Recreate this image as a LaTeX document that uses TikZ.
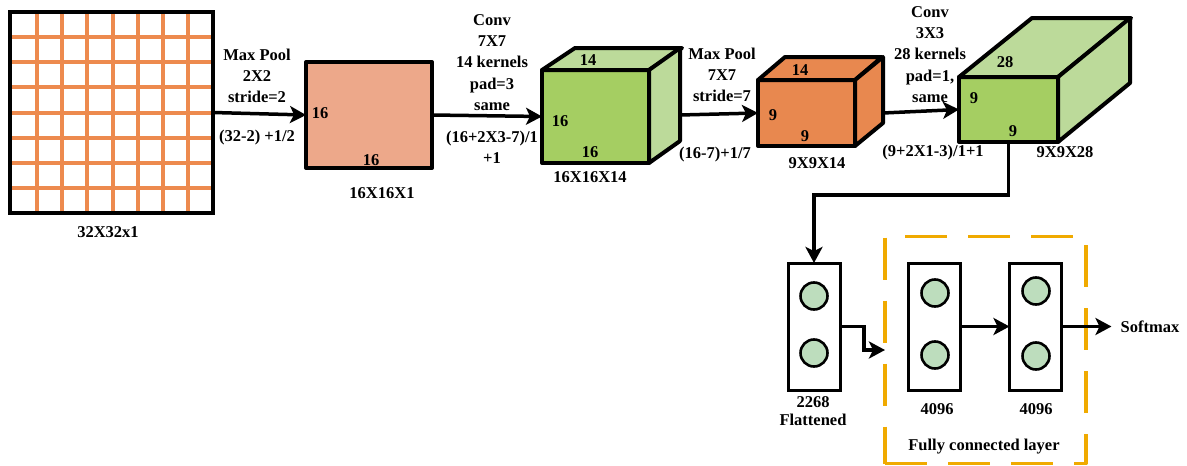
\documentclass[tikz,border=0pt]{standalone}
\usepackage{fontspec}
\setmainfont{Liberation Serif}
\usetikzlibrary{arrows.meta,calc}
\definecolor{gridor}{HTML}{ED8A4E}
\definecolor{pinkf}{HTML}{EDA88A}
\definecolor{greenf}{HTML}{A5CE62}
\definecolor{greenl}{HTML}{BCDA9A}
\definecolor{orcube}{HTML}{E8884F}
\definecolor{dashor}{HTML}{F0AA00}
\definecolor{circf}{HTML}{BDDDBD}
\begin{document}
\begin{tikzpicture}[x=1pt,y=-1pt,
  lbl/.style={font=\bfseries\fontsize{16.5}{21.3}\selectfont, align=center, inner sep=0pt},
  face/.style={draw, line width=4pt, line join=round, outer sep=0pt, inner sep=0pt},
  arr/.style={line width=3.5pt, -{Stealth[length=16pt,width=17pt,inset=4pt]}},
  layerbox/.style={draw, line width=3pt, fill=white, minimum width=52pt, minimum height=127pt, outer sep=0pt, inner sep=0pt},
  neuron/.style={circle, draw, line width=2.6pt, fill=circf, minimum size=27pt, inner sep=0pt},
]
\useasboundingbox (0,0) rectangle (1187,466);

% input grid
\node[face, minimum width=203pt, minimum height=201pt, fill=white] (in) at (111.5,112.5) {};
\foreach \v in {37,62,87,113,138,163,188} {
  \draw[gridor, line width=3.8pt] (\v,12) -- (\v,213);
  \draw[gridor, line width=3.8pt] (10,\v) -- (213,\v);
}
\draw[line width=4pt] (in.north west) rectangle (in.south east);
\node[lbl] (inl) at (108,232) {32X32x1};

% pool 1 output
\node[face, fill=pinkf, minimum width=126pt, minimum height=106pt] (pink) at (369,115) {};
\node[lbl] (p16a) at (320,113) {16};
\node[lbl] (p16b) at (371,160) {16};
\node[lbl] (pinkl) at (382,193) {16X16X1};

% cube 1
\node[face, fill=greenf, minimum width=107pt, minimum height=93pt] (c1) at (595.5,116.5) {};
\draw[face, fill=greenl] (c1.north west) -- ++(33,-22) -- ++(107,0) -- (c1.north east) -- cycle;
\draw[face, fill=greenl] (c1.north east) -- ++(31,-22) -- ++(0,93) -- (c1.south east) -- cycle;
\node[lbl] (c1a) at (588,60) {14};
\node[lbl] (c1b) at (560,121) {16};
\node[lbl] (c1c) at (590,152) {16};
\node[lbl] (c1l) at (590,177) {16X16X14};

% cube 2
\node[face, fill=orcube, minimum width=97pt, minimum height=66pt] (c2) at (806.5,113) {};
\draw[face, fill=orcube] (c2.north west) -- ++(27,-23) -- ++(97,0) -- (c2.north east) -- cycle;
\draw[face, fill=orcube] (c2.north east) -- ++(28,-23) -- ++(0,66) -- (c2.south east) -- cycle;
\node[lbl] (c2a) at (800,70) {14};
\node[lbl] (c2b) at (773,115) {9};
\node[lbl] (c2c) at (805,136) {9};
\node[lbl] (c2l) at (817,163) {9X9X14};

% cube 3
\node[face, fill=greenf, minimum width=99pt, minimum height=65pt] (c3) at (1008.5,109.5) {};
\draw[face, fill=greenl] (c3.north west) -- ++(73,-59) -- ++(99,0) -- (c3.north east) -- cycle;
\draw[face, fill=greenl] (c3.north east) -- ++(72,-59) -- ++(0,65) -- (c3.south east) -- cycle;
\node[lbl] (c3a) at (1005,62) {28};
\node[lbl] (c3b) at (974,98) {9};
\node[lbl] (c3c) at (1013,131) {9};
\node[lbl] (c3l) at (1065,152) {9X9X28};

% arrows between stages
\draw[arr] (in.east) -- (pink.west);
\node[lbl] (t1) at (257,76) {Max Pool\\2X2\\stride=2};
\node[lbl] (t1b) at (257,138) {(32-2) +1/2};

\draw[arr] (pink.east) -- (c1.west);
\node[lbl] (t2) at (492,62.5) {Conv\\7X7\\14 kernels\\pad=3\\same};
\node[lbl] (t2b) at (492,147) {(16+2X3-7)/1\\+1};

\coordinate (c1r) at ($(c1.east)+(31,-1.5)$);
\draw[arr] (c1r) -- (c2.west);
\node[lbl] (t3) at (722,75) {Max Pool\\7X7\\stride=7};
\node[lbl] (t3b) at (715,155) {(16-7)+1/7};

\coordinate (c2r) at ($(c2.east)+(28,0)$);
\draw[arr] (c2r) -- (c3.west);
\node[lbl] (t4) at (930,54.5) {Conv\\3X3\\28 kernels\\pad=1,\\same};
\node[lbl] (t4b) at (933,153) {(9+2X1-3)/1+1};

% dense part
\node[face, line width=3.2pt, draw=dashor, dash pattern=on 42pt off 21pt, minimum width=201pt, minimum height=227pt] (fc) at (985.5,350) {};

\node[layerbox] (flat) at (814,326.5) {};
\node[neuron] (f1) at (814,296) {};
\node[neuron] (f2) at (814,353) {};
\node[lbl, font=\bfseries\fontsize{16.5}{18.5}\selectfont] (flatl) at (813,411) {2268\\Flattened};

\node[layerbox] (fc1) at (934,326.5) {};
\node[neuron] (n1) at (935,293) {};
\node[neuron] (n2) at (935,355) {};
\node[lbl] (fc1l) at (937,409) {4096};

\node[layerbox] (fc2) at (1035.5,326.5) {};
\node[neuron] (m1) at (1036,291) {};
\node[neuron] (m2) at (1036,356) {};
\node[lbl] (fc2l) at (1036,409) {4096};

\node[lbl] (fcl) at (984,447) {Fully connected layer};
\node[lbl, inner xsep=9pt] (soft) at (1150,326.5) {Softmax};

\draw[arr] (c3.south) -- ++(0,53) -| (flat.north);
\draw[arr] (flat.east) -- ++(24,0) |- (fc.west);
\draw[arr] (fc1.east) -- (fc2.west);
\draw[arr] (fc2.east) -- (soft.west);
\end{tikzpicture}
\end{document}
